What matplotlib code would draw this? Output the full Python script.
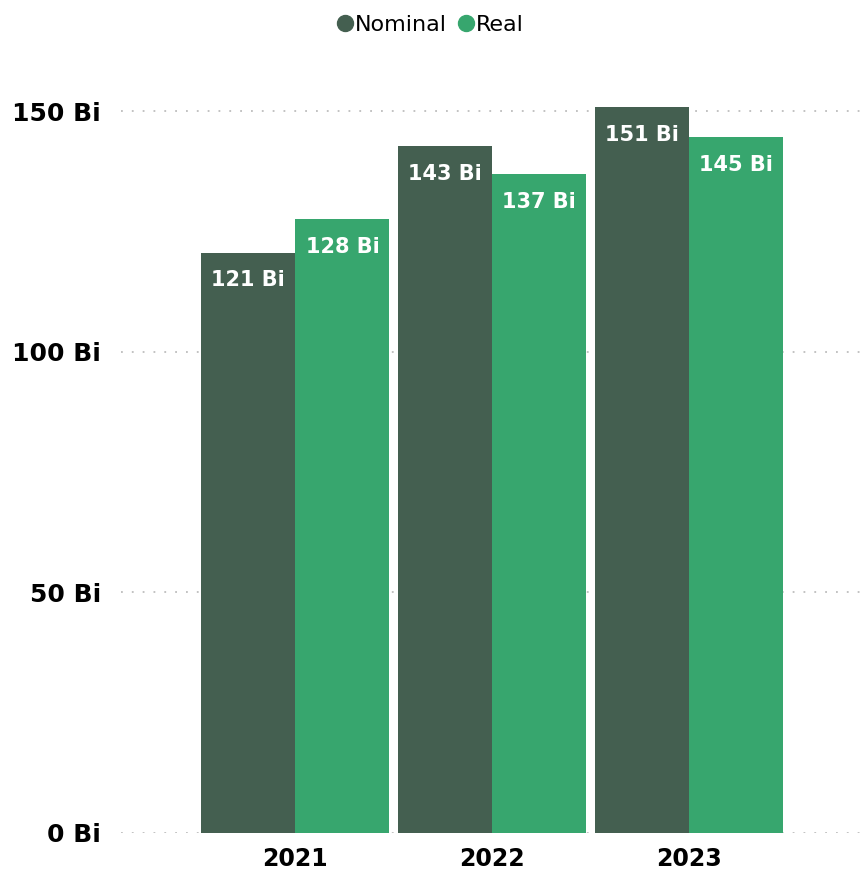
import matplotlib.pyplot as plt
import numpy as np
from matplotlib.lines import Line2D

# data (billions)
anos = ["2021", "2022", "2023"]
nominal = [120.6, 142.7, 150.8]
real = [127.6, 136.9, 144.6]
y_ticks = [0, 50, 100, 150]
y_labels = ["0 Bi", "50 Bi", "100 Bi", "150 Bi"]

COR_NOMINAL = "#445F50"
COR_REAL = "#37A66E"

fig = plt.figure(figsize=(8.61, 8.75), dpi=100)
fig.patch.set_facecolor("white")
ax = fig.add_axes([0.14, 0.048, 0.86, 0.88])

x = np.arange(len(anos))
w = 0.478
b1 = ax.bar(x - w / 2, nominal, w, color=COR_NOMINAL, zorder=3)
b2 = ax.bar(x + w / 2, real, w, color=COR_REAL, zorder=3)

# labels inside the top of each bar
for barras, vals in [(b1, nominal), (b2, real)]:
    for barra, v in zip(barras, vals):
        ax.annotate(f"{round(v)} Bi",
                    xy=(barra.get_x() + barra.get_width() / 2, v),
                    xytext=(0, -20), textcoords="offset points",
                    ha="center", va="center", color="white",
                    fontsize=15, fontweight="bold", zorder=4)

ax.set_xlim(-0.888, 2.873)
ax.set_ylim(0, 160)
ax.set_yticks(y_ticks)
ax.set_yticklabels(y_labels, fontsize=18, fontweight="bold")
ax.set_xticks(x)
ax.set_xticklabels(anos, fontsize=17, fontweight="bold")
ax.tick_params(length=0)
ax.tick_params(axis="y", pad=14)
ax.tick_params(axis="x", pad=10)

ax.grid(axis="y", color="#BDBDBD", linestyle=(0, (1, 5)), linewidth=1.3, zorder=0)
for s in ax.spines.values():
    s.set_visible(False)

# legend with circle markers
hs = [Line2D([], [], marker="o", linestyle="", markersize=11.5, color=COR_NOMINAL),
      Line2D([], [], marker="o", linestyle="", markersize=11.5, color=COR_REAL)]
fig.legend(hs, ["Nominal", "Real"], loc="upper center", bbox_to_anchor=(0.5, 1.006), ncol=2,
           frameon=False, fontsize=16, handlelength=0.7, handletextpad=0.1, columnspacing=0.5)

fig.savefig("out.png", dpi=100)
